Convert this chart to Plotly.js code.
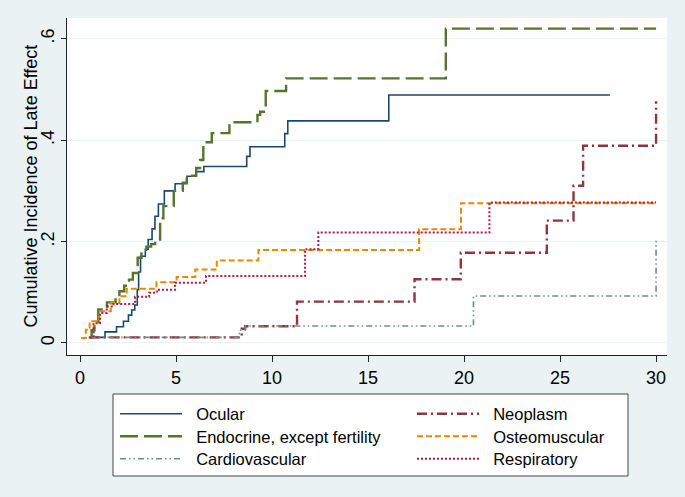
<!DOCTYPE html>
<html>
<head>
<meta charset="utf-8">
<script src="https://cdn.plot.ly/plotly-3.0.1.min.js"></script>
<style>html,body{margin:0;padding:0;background:#eaf2f3;}#chart{width:685px;height:497px;}</style>
</head>
<body>
<div id="chart"></div>
<script>
// Analysis time (years) and cumulative incidence
var ocularT = [0.65, 1.3, 1.9, 2.26, 2.52, 2.69, 2.85, 2.98, 3.05, 3.15, 3.4, 3.55, 3.75, 3.9, 4.08, 4.39, 4.95, 5.57, 6.05, 6.45, 8.68, 8.85, 10.66, 10.82, 16.08, 27.6];
var ocularV = [0.011, 0.022, 0.032, 0.043, 0.055, 0.065, 0.075, 0.105, 0.14, 0.171, 0.185, 0.204, 0.225, 0.25, 0.274, 0.30, 0.314, 0.329, 0.338, 0.348, 0.368, 0.387, 0.413, 0.438, 0.489, 0.489];

var endoT = [0.45, 0.6, 0.75, 0.95, 1.4, 1.85, 2.05, 2.3, 2.55, 2.75, 3.0, 3.2, 3.45, 3.7, 3.91, 4.17, 4.34, 4.88, 5.35, 5.56, 6.05, 6.25, 6.42, 6.86, 7.78, 9.24, 9.38, 9.67, 10.73, 19.05, 30];
var endoV = [0.011, 0.025, 0.041, 0.066, 0.08, 0.092, 0.102, 0.113, 0.125, 0.138, 0.168, 0.18, 0.19, 0.195, 0.204, 0.246, 0.27, 0.30, 0.316, 0.330, 0.345, 0.361, 0.396, 0.414, 0.4355, 0.45, 0.456, 0.497, 0.522, 0.620, 0.620];

var cardioT = [0.5, 8.3, 8.6, 20.49, 30, 30];
var cardioV = [0.011, 0.025, 0.0335, 0.0928, 0.0928, 0.2046];

var neoT = [0.5, 8.42, 8.6, 11.3, 17.42, 19.83, 24.31, 25.7, 26.2, 30, 30];
var neoV = [0.011, 0.028, 0.033, 0.0816, 0.1257, 0.178, 0.2414, 0.31, 0.389, 0.389, 0.477];

var osteoT = [0.05, 0.3, 0.5, 1.0, 1.6, 2.05, 2.43, 3.98, 5.03, 6.0, 7.12, 9.29, 17.66, 19.84, 30];
var osteoV = [0.01, 0.026, 0.043, 0.0625, 0.079, 0.092, 0.107, 0.12, 0.13, 0.145, 0.1625, 0.1835, 0.2244, 0.2757, 0.2757];

var respT = [0.5, 0.7, 1.04, 1.39, 1.74, 2.86, 3.6, 4.0, 4.95, 6.56, 11.72, 12.41, 21.32, 30];
var respV = [0.011, 0.039, 0.059, 0.072, 0.077, 0.091, 0.099, 0.105, 0.119, 0.132, 0.185, 0.218, 0.2769, 0.2769];

var xTicks = [0, 5, 10, 15, 20, 25, 30];
var yTicks = [0, 0.2, 0.4, 0.6];
var yTickLabels = ['0', '.2', '.4', '.6'];
var yTitle = 'Cumulative Incidence of Late Effect';

var pad = '\u00a0\u00a0';
function tr(name, x, y, color, width, dash, leg) {
  return {x: x, y: y, name: pad + name, type: 'scatter', mode: 'lines', legend: leg,
    line: {shape: 'hv', color: color, width: width, dash: dash}};
}

var traces = [
  tr('Ocular', ocularT, ocularV, '#1a476f', 1.6, 'solid', 'legend'),
  tr('Neoplasm', neoT, neoV, '#90353b', 2.4, '10px,4px,2px,4px', 'legend2'),
  tr('Endocrine, except fertility', endoT, endoV, '#55752f', 2.4, '18px,6px', 'legend3'),
  tr('Osteomuscular', osteoT, osteoV, '#e38a00', 2, '6px,3px', 'legend4'),
  tr('Cardiovascular', cardioT, cardioV, '#6e8e84', 1.6, '6px,3px,1.5px,3px,1.5px,3px', 'legend5'),
  tr('Respiratory', respT, respV, '#b0174a', 2, '2px,2px', 'legend6')
];

function leg(px, py) {
  return {
    orientation: 'v', x: (px - 67) / 600, xanchor: 'left', y: (355 - py) / 337, yanchor: 'top',
    bgcolor: 'rgba(0,0,0,0)', borderwidth: 0, itemwidth: 62,
    font: {size: 16.5, color: '#000'}
  };
}

var layout = {
  width: 685, height: 497,
  paper_bgcolor: '#eaf2f3',
  plot_bgcolor: '#ffffff',
  margin: {l: 67, r: 18, t: 18, b: 142, autoexpand: false},
  font: {family: 'Liberation Sans, Arial, sans-serif', color: '#000'},
  showlegend: true,
  xaxis: {
    range: [-0.68, 30.57], tickvals: xTicks, ticktext: xTicks.map(String),
    showgrid: false, zeroline: false, showline: true, linecolor: '#222', linewidth: 1,
    ticks: 'outside', ticklen: 6, tickcolor: '#222', tickfont: {size: 18}
  },
  yaxis: {
    range: [-0.0237, 0.641], tickvals: yTicks, ticktext: yTickLabels, tickangle: -90,
    showgrid: true, gridcolor: '#eaf2f3', gridwidth: 1, zeroline: false,
    showline: true, linecolor: '#222', linewidth: 1,
    ticks: 'outside', ticklen: 5, tickcolor: '#222', tickfont: {size: 18}
  },
  annotations: [{
    text: yTitle, xref: 'paper', yref: 'paper', x: (30 - 67) / 600, y: 0.5,
    xanchor: 'center', yanchor: 'middle', textangle: -90, showarrow: false,
    font: {size: 18, color: '#000'}
  }],
  legend: leg(115, 396.5),
  legend2: leg(412, 396.5),
  legend3: leg(115, 419),
  legend4: leg(412, 419),
  legend5: leg(115, 441.5),
  legend6: leg(412, 441.5),
  shapes: [{
    type: 'rect', xref: 'paper', yref: 'paper',
    x0: (113 - 67) / 600, x1: (628 - 67) / 600,
    y0: (355 - 476) / 337, y1: (355 - 394) / 337,
    fillcolor: '#ffffff', line: {color: '#444', width: 1}, layer: 'below'
  }]
};

Plotly.newPlot('chart', traces, layout, {displayModeBar: false, staticPlot: true});
</script>
</body>
</html>
